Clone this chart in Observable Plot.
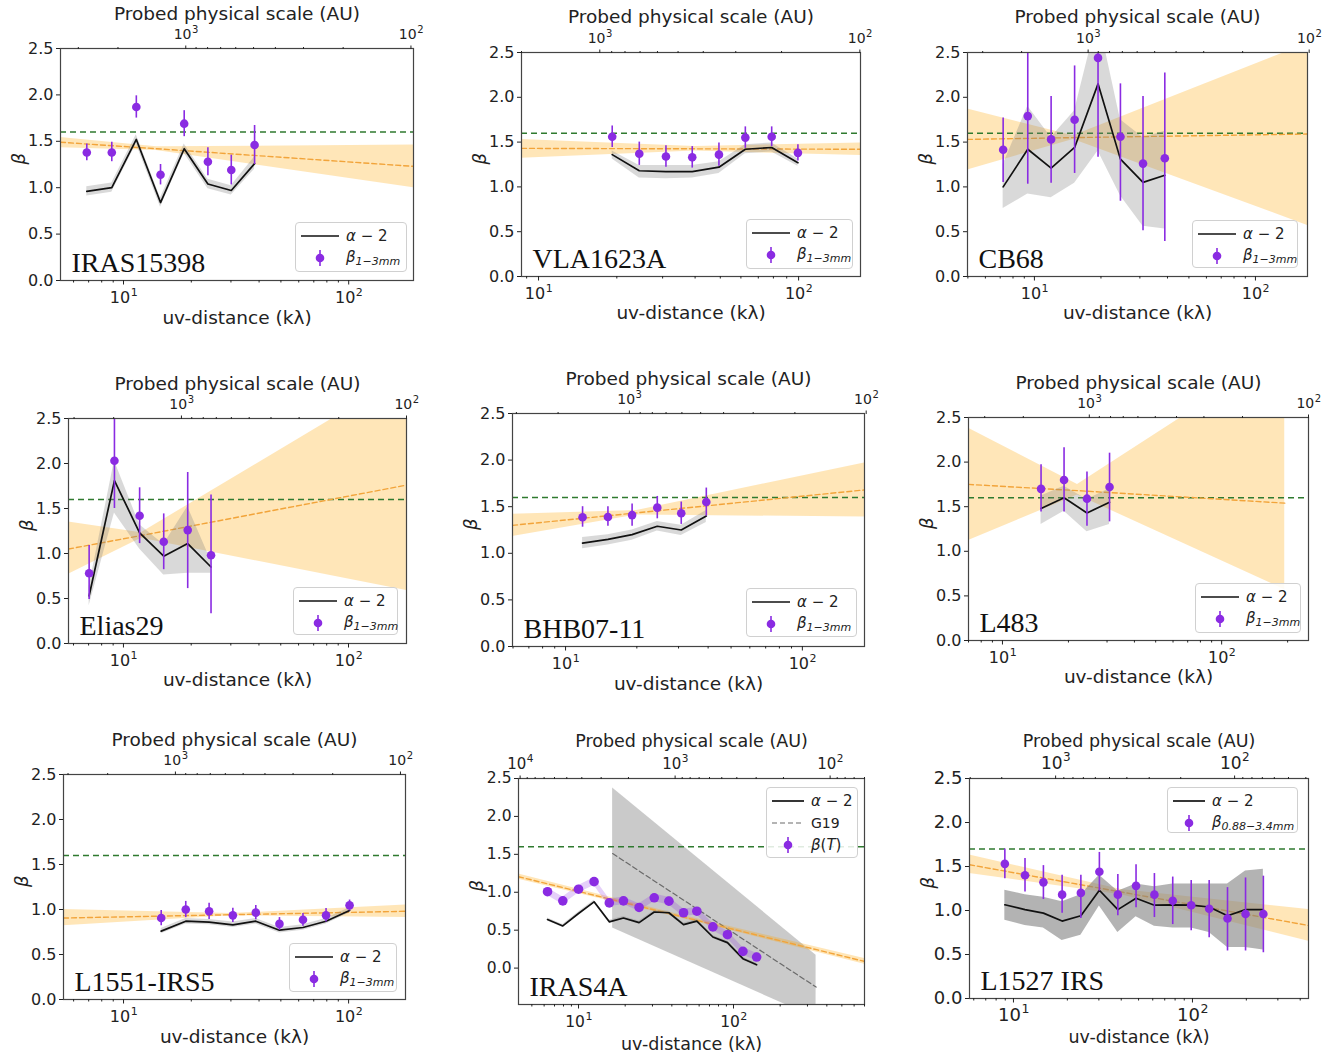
<!DOCTYPE html>
<html>
<head>
<meta charset="utf-8">
<script src="https://cdn.jsdelivr.net/npm/d3@7"></script>
<script src="https://cdn.jsdelivr.net/npm/@observablehq/plot@0.6"></script>
<style>
  html, body { margin: 0; padding: 0; background: #fff; }
  body { width: 1341px; height: 1059px; position: relative; overflow: hidden; font-family: "DejaVu Sans", sans-serif; }
  .panel { position: absolute; }
  .legend { position: absolute; box-sizing: border-box; background: rgba(255,255,255,0.85); border: 1px solid #d0d0d0; border-radius: 4px; color: #222; font-family: "DejaVu Sans", sans-serif; padding: 2px 0; }
  .legend .row { display: flex; align-items: center; height: 22px; }
  .legend svg { flex: none; }
  .legend .lab { font-size: 15px; white-space: nowrap; margin-left: 4px; }
  .legend sub { font-size: 11px; font-style: italic; vertical-align: -3px; }
</style>
</head>
<body>
<script>
// ---------------- DATA ----------------
const yTicks = [0, 0.5, 1.0, 1.5, 2.0, 2.5];
const uvDecadeMults = [1];
const minorMults = [2, 3, 4, 5, 6, 7, 8, 9];

// IRAS15398
const iras15398_uv = [6.87, 8.87, 11.4, 14.6, 18.6, 23.7, 30.1, 38.2];
const iras15398_beta = [1.38, 1.38, 1.87, 1.14, 1.69, 1.28, 1.19, 1.46];
const iras15398_betaLo = [1.29, 1.28, 1.75, 1.03, 1.55, 1.13, 1.03, 1.25];
const iras15398_betaHi = [1.47, 1.49, 1.99, 1.25, 1.83, 1.43, 1.35, 1.67];
const iras15398_alpha = [0.96, 1.00, 1.52, 0.84, 1.42, 1.04, 0.97, 1.26];
const iras15398_alphaLo = [0.91, 0.95, 1.47, 0.79, 1.37, 0.99, 0.92, 1.20];
const iras15398_alphaHi = [1.01, 1.05, 1.57, 0.89, 1.47, 1.09, 1.02, 1.33];
const iras15398_fitUv = [5.25, 14, 194];
const iras15398_fitMid = [1.49, 1.42, 1.23];
const iras15398_fitLo = [1.43, 1.40, 1.00];
const iras15398_fitHi = [1.54, 1.44, 1.46];

// VLA1623A
const vla1623a_uv = [19.2, 24.4, 30.9, 39.0, 49.4, 62.4, 78.8, 99.4];
const vla1623a_beta = [1.56, 1.37, 1.34, 1.33, 1.36, 1.55, 1.56, 1.38];
const vla1623a_betaLo = [1.44, 1.24, 1.22, 1.21, 1.23, 1.43, 1.45, 1.29];
const vla1623a_betaHi = [1.68, 1.50, 1.46, 1.45, 1.49, 1.67, 1.67, 1.47];
const vla1623a_alpha = [1.36, 1.18, 1.17, 1.17, 1.22, 1.42, 1.44, 1.27];
const vla1623a_alphaLo = [1.31, 1.10, 1.09, 1.10, 1.15, 1.37, 1.39, 1.23];
const vla1623a_alphaHi = [1.40, 1.24, 1.24, 1.24, 1.28, 1.47, 1.49, 1.31];
const vla1623a_fitUv = [8.6, 40, 173];
const vla1623a_fitMid = [1.43, 1.425, 1.42];
const vla1623a_fitLo = [1.32, 1.40, 1.35];
const vla1623a_fitHi = [1.53, 1.45, 1.49];

// CB68
const cb68_uv = [7.22, 9.33, 11.9, 15.2, 19.4, 24.5, 31.0, 38.9];
const cb68_beta = [1.415, 1.79, 1.53, 1.75, 2.44, 1.56, 1.26, 1.32];
const cb68_betaLo = [1.05, 1.03, 1.04, 1.15, 1.33, 0.84, 0.51, 0.39];
const cb68_betaHi = [1.77, 2.60, 2.01, 2.35, 3.50, 2.15, 2.01, 2.27];
const cb68_alpha = [1.00, 1.42, 1.21, 1.44, 2.15, 1.31, 1.05, 1.13];
const cb68_alphaLo = [0.76, 0.92, 0.88, 1.04, 1.40, 0.90, 0.56, 0.53];
const cb68_alphaHi = [1.25, 1.90, 1.55, 1.85, 2.90, 1.75, 1.55, 1.62];
const cb68_fitUv = [4.98, 15, 172];
const cb68_fitMid = [1.53, 1.55, 1.59];
const cb68_fitLo = [1.19, 1.53, 0.57];
const cb68_fitHi = [1.87, 1.57, 2.60];

// Elias29
const elias29_uv = [7.04, 9.12, 11.8, 15.1, 19.3, 24.5];
const elias29_beta = [0.78, 2.03, 1.42, 1.13, 1.26, 0.98];
const elias29_betaLo = [0.49, 1.50, 1.11, 0.82, 0.61, 0.33];
const elias29_betaHi = [1.09, 2.60, 1.73, 1.44, 1.90, 1.65];
const elias29_alpha = [0.53, 1.81, 1.23, 0.97, 1.11, 0.85];
const elias29_alphaLo = [0.42, 1.45, 1.05, 0.76, 0.78, 0.78];
const elias29_alphaHi = [0.63, 2.03, 1.32, 1.10, 1.52, 0.92];
const elias29_fitUv = [5.7, 12, 181];
const elias29_fitMid = [1.05, 1.20, 1.76];
const elias29_fitLo = [0.77, 1.17, 0.59];
const elias29_fitHi = [1.35, 1.23, 2.99];

// BHB07-11
const bhb0711_uv = [11.8, 15.1, 19.1, 24.4, 30.8, 39.3];
const bhb0711_beta = [1.386, 1.39, 1.41, 1.49, 1.43, 1.55];
const bhb0711_betaLo = [1.28, 1.29, 1.29, 1.37, 1.31, 1.40];
const bhb0711_betaHi = [1.50, 1.50, 1.53, 1.61, 1.55, 1.70];
const bhb0711_alpha = [1.11, 1.15, 1.20, 1.29, 1.25, 1.40];
const bhb0711_alphaLo = [1.05, 1.09, 1.14, 1.24, 1.19, 1.33];
const bhb0711_alphaHi = [1.17, 1.20, 1.25, 1.34, 1.30, 1.46];
const bhb0711_fitUv = [5.97, 20, 183];
const bhb0711_fitMid = [1.30, 1.434, 1.68];
const bhb0711_fitLo = [1.18, 1.41, 1.39];
const bhb0711_fitHi = [1.42, 1.46, 1.97];

// L483
const l483_uv = [15.0, 19.1, 24.3, 30.8];
const l483_beta = [1.70, 1.80, 1.59, 1.72];
const l483_betaLo = [1.44, 1.44, 1.28, 1.33];
const l483_betaHi = [1.97, 2.16, 1.89, 2.10];
const l483_alpha = [1.48, 1.60, 1.43, 1.55];
const l483_alphaLo = [1.30, 1.45, 1.22, 1.30];
const l483_alphaHi = [1.62, 1.73, 1.58, 1.70];
const l483_fitUv = [7.0, 22, 194];
const l483_fitMid = [1.75, 1.68, 1.54];
const l483_fitLo = [1.12, 1.63, 0.57];
const l483_fitHi = [2.38, 1.75, 3.25];

// L1551-IRS5
const l1551_uv = [14.7, 18.9, 24.0, 30.6, 38.7, 49.3, 62.7, 79.4, 101];
const l1551_beta = [0.905, 1.00, 0.98, 0.935, 0.965, 0.84, 0.886, 0.935, 1.046];
const l1551_betaLo = [0.82, 0.91, 0.89, 0.855, 0.885, 0.77, 0.815, 0.86, 0.985];
const l1551_betaHi = [0.99, 1.09, 1.07, 1.015, 1.045, 0.91, 0.955, 1.01, 1.105];
const l1551_alpha = [0.76, 0.87, 0.86, 0.83, 0.87, 0.77, 0.80, 0.87, 0.99];
const l1551_alphaLo = [0.73, 0.84, 0.83, 0.80, 0.84, 0.74, 0.77, 0.84, 0.96];
const l1551_alphaHi = [0.79, 0.90, 0.89, 0.86, 0.90, 0.80, 0.83, 0.90, 1.02];
const l1551_fitUv = [5.41, 30, 179];
const l1551_fitMid = [0.905, 0.942, 0.98];
const l1551_fitLo = [0.82, 0.93, 0.91];
const l1551_fitHi = [1.00, 0.955, 1.05];

// IRAS4A
const iras4a_uv = [6.31, 7.92, 10.0, 12.6, 15.8, 19.5, 24.6, 30.8, 38.3, 47.6, 58.0, 73.6, 91.4, 115, 141];
const iras4a_beta = [1.007, 0.887, 1.04, 1.14, 0.86, 0.887, 0.80, 0.927, 0.883, 0.73, 0.75, 0.543, 0.44, 0.22, 0.146];
const iras4a_betaLo = [0.957, 0.837, 0.99, 1.09, 0.81, 0.837, 0.75, 0.877, 0.833, 0.68, 0.70, 0.493, 0.39, 0.17, 0.096];
const iras4a_betaHi = [1.057, 0.937, 1.09, 1.19, 0.91, 0.937, 0.85, 0.977, 0.933, 0.78, 0.80, 0.593, 0.49, 0.27, 0.196];
const iras4a_alpha = [0.64, 0.556, 0.72, 0.874, 0.61, 0.66, 0.60, 0.74, 0.73, 0.574, 0.62, 0.41, 0.336, 0.124, 0.044];
const iras4a_alphaLo = [0.62, 0.536, 0.70, 0.854, 0.59, 0.64, 0.58, 0.72, 0.71, 0.554, 0.60, 0.39, 0.316, 0.104, 0.024];
const iras4a_alphaHi = [0.66, 0.576, 0.74, 0.894, 0.63, 0.68, 0.62, 0.76, 0.75, 0.594, 0.64, 0.43, 0.356, 0.144, 0.064];
const iras4a_fitUv = [4.1, 40, 700];
const iras4a_fitMid = [1.205, 0.71, 0.088];
const iras4a_fitLo = [1.17, 0.69, 0.05];
const iras4a_fitHi = [1.24, 0.73, 0.125];
const iras4a_g19Uv = [16.6, 341];
const iras4a_g19Mid = [1.51, -0.25];
const iras4a_g19Lo = [0.53, -0.66];
const iras4a_g19Hi = [2.375, 0.17];

// L1527 IRS
const l1527_uv = [8.95, 11.6, 14.7, 18.7, 23.8, 30.2, 38.3, 48.4, 61.3, 77.6, 98.4, 124, 157, 198, 249];
const l1527_beta = [1.53, 1.40, 1.32, 1.18, 1.20, 1.44, 1.18, 1.28, 1.18, 1.11, 1.06, 1.02, 0.91, 0.96, 0.96];
const l1527_betaLo = [1.36, 1.21, 1.125, 0.97, 0.91, 1.22, 0.94, 1.03, 0.92, 0.84, 0.77, 0.69, 0.54, 0.54, 0.52];
const l1527_betaHi = [1.70, 1.59, 1.51, 1.40, 1.40, 1.66, 1.41, 1.52, 1.42, 1.38, 1.34, 1.34, 1.26, 1.37, 1.39];
const l1527_alpha = [1.065, 1.01, 0.97, 0.88, 0.94, 1.23, 1.01, 1.14, 1.06, 1.065, 1.06, 1.04, 0.94, 1.01, 1.01];
const l1527_alphaLo = [0.89, 0.83, 0.80, 0.66, 0.72, 1.05, 0.75, 0.93, 0.82, 0.80, 0.80, 0.75, 0.58, 0.58, 0.55];
const l1527_alphaHi = [1.23, 1.18, 1.15, 1.10, 1.18, 1.40, 1.22, 1.30, 1.27, 1.30, 1.30, 1.30, 1.30, 1.45, 1.47];
const l1527_fitUv = [5.68, 40, 445];
const l1527_fitMid = [1.52, 1.21, 0.83];
const l1527_fitLo = [1.42, 1.18, 0.65];
const l1527_fitHi = [1.63, 1.24, 1.01];

// names, reference lines, axis ranges and AU conversion constants
const names = ["IRAS15398", "VLA1623A", "CB68", "Elias29", "BHB07-11", "L483", "L1551-IRS5", "IRAS4A", "L1527 IRS"];
const refBeta = [1.6, 1.6, 1.6, 1.6, 1.6, 1.6, 1.6, 1.6, 1.7];
const uvDomains = [[5.25, 194], [8.6, 173], [4.98, 172], [5.7, 181], [5.97, 183], [7.0, 249], [5.41, 179], [4.1, 700], [5.68, 445]];
const yDomains = [[0, 2.5], [0, 2.5], [0, 2.5], [0, 2.5], [0, 2.5], [0, 2.5], [0, 2.5], [-0.48, 2.5], [0, 2.5]];
const auTimesUv = [18900, 17200, 17500, 18100, 18600, 24900, 17000, 42000, 17200];
const betaLabels = ["1−3mm", "1−3mm", "1−3mm", "1−3mm", "1−3mm", "1−3mm", "1−3mm", "(T)", "0.88−3.4mm"];

const series = [
  [iras15398_uv, iras15398_beta, iras15398_betaLo, iras15398_betaHi, iras15398_alpha, iras15398_alphaLo, iras15398_alphaHi, iras15398_fitUv, iras15398_fitMid, iras15398_fitLo, iras15398_fitHi],
  [vla1623a_uv, vla1623a_beta, vla1623a_betaLo, vla1623a_betaHi, vla1623a_alpha, vla1623a_alphaLo, vla1623a_alphaHi, vla1623a_fitUv, vla1623a_fitMid, vla1623a_fitLo, vla1623a_fitHi],
  [cb68_uv, cb68_beta, cb68_betaLo, cb68_betaHi, cb68_alpha, cb68_alphaLo, cb68_alphaHi, cb68_fitUv, cb68_fitMid, cb68_fitLo, cb68_fitHi],
  [elias29_uv, elias29_beta, elias29_betaLo, elias29_betaHi, elias29_alpha, elias29_alphaLo, elias29_alphaHi, elias29_fitUv, elias29_fitMid, elias29_fitLo, elias29_fitHi],
  [bhb0711_uv, bhb0711_beta, bhb0711_betaLo, bhb0711_betaHi, bhb0711_alpha, bhb0711_alphaLo, bhb0711_alphaHi, bhb0711_fitUv, bhb0711_fitMid, bhb0711_fitLo, bhb0711_fitHi],
  [l483_uv, l483_beta, l483_betaLo, l483_betaHi, l483_alpha, l483_alphaLo, l483_alphaHi, l483_fitUv, l483_fitMid, l483_fitLo, l483_fitHi],
  [l1551_uv, l1551_beta, l1551_betaLo, l1551_betaHi, l1551_alpha, l1551_alphaLo, l1551_alphaHi, l1551_fitUv, l1551_fitMid, l1551_fitLo, l1551_fitHi],
  [iras4a_uv, iras4a_beta, iras4a_betaLo, iras4a_betaHi, iras4a_alpha, iras4a_alphaLo, iras4a_alphaHi, iras4a_fitUv, iras4a_fitMid, iras4a_fitLo, iras4a_fitHi],
  [l1527_uv, l1527_beta, l1527_betaLo, l1527_betaHi, l1527_alpha, l1527_alphaLo, l1527_alphaHi, l1527_fitUv, l1527_fitMid, l1527_fitLo, l1527_fitHi]
];

// ---------------- LAYOUT / STYLE ----------------
const frames = [
  {left: 60, top: 48, right: 413, bottom: 280},
  {left: 521, top: 52, right: 860, bottom: 276},
  {left: 967, top: 52, right: 1307, bottom: 276},
  {left: 68, top: 418, right: 406, bottom: 643},
  {left: 512, top: 413, right: 864, bottom: 646},
  {left: 968, top: 417, right: 1308, bottom: 640},
  {left: 63, top: 774, right: 405, bottom: 999},
  {left: 518, top: 778, right: 864, bottom: 1004},
  {left: 969, top: 778, right: 1308, bottom: 998}
];
const legendBoxes = [
  [295, 222, 112, 50], [746, 219, 107, 50], [1192, 220, 106, 48],
  [293, 587, 105, 48], [746, 588, 111, 49], [1195, 583, 106, 50],
  [289, 943, 108, 49], [766, 787, 92, 71], [1167, 787, 131, 46]
];
const legendSwatch = [46, 46, 46, 46, 46, 46, 46, 40, 40];
const styles = [
  {tick: 16, exp: 11, top: 14, topExp: 10, title: 18.5, titleDy: -34, xlabDy: 38},
  {tick: 16, exp: 11, top: 14, topExp: 10, title: 18.5, titleDy: -35, xlabDy: 37},
  {tick: 16, exp: 11, top: 14, topExp: 10, title: 18.5, titleDy: -35, xlabDy: 37},
  {tick: 16, exp: 11, top: 14, topExp: 10, title: 18.5, titleDy: -34, xlabDy: 37},
  {tick: 16, exp: 11, top: 14, topExp: 10, title: 18.5, titleDy: -34, xlabDy: 38},
  {tick: 16, exp: 11, top: 14, topExp: 10, title: 18.5, titleDy: -34, xlabDy: 37},
  {tick: 16, exp: 11, top: 14, topExp: 10, title: 18.5, titleDy: -34, xlabDy: 38},
  {tick: 15.5, exp: 11, top: 15, topExp: 10.5, title: 17.5, titleDy: -37, xlabDy: 40},
  {tick: 18, exp: 12.5, top: 17, topExp: 12, title: 17.5, titleDy: -37, xlabDy: 39}
];
const PURPLE = "#8a2be2";
const ORANGE = "#f2a43a";
const GREEN = "#2f7a2f";

function ticksIn(lo, hi, mults) {
  const out = [];
  for (let k = -2; k <= 6; k++) for (const m of mults) {
    const v = m * Math.pow(10, k);
    if (v >= lo * 0.98 && v <= hi * 1.02) out.push(v);
  }
  return out;
}
const expOf = v => String(Math.round(Math.log10(v)));

// power-of-ten labels drawn as "10" + raised exponent, positioned by the x scale
function powLabels(ticks, valueOf, anchor, fs, es, base) {
  const w10 = 2 * 0.636 * fs, we = 0.636 * es;
  const shift = (w10 - we) / 2;
  const baseDy = anchor === "bottom" ? base : -base;
  return [
    Plot.text(ticks, {x: d => d, text: () => "10", frameAnchor: anchor, dx: shift, dy: baseDy, textAnchor: "end", lineAnchor: "bottom", fontSize: fs, fill: "#222"}),
    Plot.text(ticks, {x: d => d, text: d => expOf(valueOf(d)), frameAnchor: anchor, dx: shift + 0.5, dy: baseDy - fs * 0.42, textAnchor: "start", lineAnchor: "bottom", fontSize: es, fill: "#222"})
  ];
}

const mL = 60, mR = 26, mT = 46, mB = 54;

function makePanel(i) {
  const f = frames[i], st = styles[i];
  const [uv, beta, bLo, bHi, alpha, aLo, aHi, fUv, fMid, fLo, fHi] = series[i];
  const pts = uv.map((x, j) => ({x, beta: beta[j], lo: bLo[j], hi: bHi[j], a: alpha[j], alo: aLo[j], ahi: aHi[j]}));
  const fit = fUv.map((x, j) => ({x, m: fMid[j], lo: fLo[j], hi: fHi[j]}));
  const [x0, x1] = uvDomains[i];
  const C = auTimesUv[i];
  const bottomMajor = ticksIn(x0, x1, uvDecadeMults);
  const bottomMinor = ticksIn(x0, x1, minorMults);
  const topMajor = ticksIn(C / x1, C / x0, uvDecadeMults).map(a => C / a);
  const topMinor = ticksIn(C / x1, C / x0, minorMults).map(a => C / a);
  const fw = f.right - f.left, fh = f.bottom - f.top;
  const W = fw + mL + mR, H = fh + mT + mB;
  const isG19 = i === 7;
  const greyOpacity = i === 8 ? 0.6 : 0.3;

  const marks = [];
  if (isG19) {
    const g = iras4a_g19Uv.map((x, j) => ({x, m: iras4a_g19Mid[j], lo: iras4a_g19Lo[j], hi: iras4a_g19Hi[j]}));
    marks.push(Plot.areaY(g, {x: "x", y1: "lo", y2: "hi", fill: "gray", fillOpacity: 0.42, clip: true}));
    marks.push(Plot.lineY(g, {x: "x", y: "m", stroke: "#6a6a6a", strokeWidth: 1.2, strokeDasharray: "5,3", clip: true}));
  }
  marks.push(
    Plot.areaY(fit, {x: "x", y1: "lo", y2: "hi", fill: "orange", fillOpacity: 0.28, clip: true}),
    Plot.ruleY([refBeta[i]], {stroke: GREEN, strokeWidth: 1.5, strokeDasharray: "6,4"}),
    Plot.lineY(fit, {x: "x", y: "m", stroke: ORANGE, strokeWidth: 1.4, strokeDasharray: "5,3", clip: true}),
    Plot.areaY(pts, {x: "x", y1: "alo", y2: "ahi", fill: "gray", fillOpacity: greyOpacity, clip: true}),
    Plot.lineY(pts, {x: "x", y: "a", stroke: "#111", strokeWidth: 1.7, clip: true})
  );
  if (isG19) {
    marks.push(Plot.areaY(pts, {x: "x", y1: "lo", y2: "hi", fill: PURPLE, fillOpacity: 0.22, clip: true}));
  }
  marks.push(
    Plot.ruleX(pts, {x: "x", y1: "lo", y2: "hi", stroke: PURPLE, strokeWidth: 1.6, clip: true}),
    Plot.dot(pts, {x: "x", y: "beta", r: isG19 ? 4.8 : 4.3, fill: PURPLE, clip: true}),
    Plot.frame({stroke: "#444", strokeWidth: 1.2}),
    Plot.axisY({ticks: yTicks, tickFormat: d => d.toFixed(1), tickSize: 4, tickPadding: 3, fontSize: st.tick, label: null}),
    Plot.axisX({anchor: "bottom", ticks: bottomMajor, tickFormat: () => "", tickSize: 4.5, label: null}),
    Plot.axisX({anchor: "bottom", ticks: bottomMinor, tickFormat: () => "", tickSize: 2.5, label: null}),
    Plot.axisX({anchor: "top", ticks: topMajor, tickFormat: () => "", tickSize: 3.5, label: null}),
    Plot.axisX({anchor: "top", ticks: topMinor, tickFormat: () => "", tickSize: 2, label: null}),
    ...powLabels(bottomMajor, d => d, "bottom", st.tick, st.exp, 22),
    ...powLabels(topMajor, d => C / d, "top", st.top, st.topExp, 10),
    Plot.text(["Probed physical scale (AU)"], {text: d => d, frameAnchor: "top", dy: st.titleDy, lineAnchor: "middle", fontSize: st.title, fill: "#222"}),
    Plot.text(["uv-distance (kλ)"], {text: d => d, frameAnchor: "bottom", dy: st.xlabDy, lineAnchor: "middle", fontSize: st.title, fill: "#222"}),
    Plot.text(["β"], {text: d => d, frameAnchor: "left", dx: -41, rotate: -90, lineAnchor: "middle", fontSize: 18, fontStyle: "italic", fill: "#222"}),
    Plot.text([names[i]], {text: d => d, frameAnchor: "bottom-left", dx: 11, dy: -9, textAnchor: "start", lineAnchor: "bottom", fontFamily: "'Liberation Serif', 'DejaVu Serif', serif", fontSize: 28, fill: "#111"})
  );

  const chart = Plot.plot({
    width: W, height: H,
    marginLeft: mL, marginRight: mR, marginTop: mT, marginBottom: mB,
    x: {type: "log", domain: uvDomains[i]},
    y: {domain: yDomains[i]},
    style: {fontFamily: "'DejaVu Sans', sans-serif", fontSize: "15px", color: "#222", background: "transparent", overflow: "visible"},
    marks
  });
  const div = document.createElement("div");
  div.className = "panel";
  div.style.left = (f.left - mL) + "px";
  div.style.top = (f.top - mT) + "px";
  div.style.width = W + "px";
  div.style.height = H + "px";
  div.appendChild(chart);
  document.body.appendChild(div);

  // legend
  const [lx, ly, lw, lh] = legendBoxes[i];
  const sw = legendSwatch[i];
  const lg = document.createElement("div");
  lg.className = "legend";
  lg.style.left = lx + "px"; lg.style.top = ly + "px"; lg.style.width = lw + "px"; lg.style.height = lh + "px";
  const lineSw = `<svg width="${sw}" height="20"><line x1="5" x2="${sw - 3}" y1="10" y2="10" stroke="#111" stroke-width="1.7"/></svg>`;
  const dashSw = `<svg width="${sw}" height="20"><line x1="5" x2="${sw - 3}" y1="10" y2="10" stroke="#6a6a6a" stroke-width="1.2" stroke-dasharray="5,3"/></svg>`;
  const cx = (5 + sw - 3) / 2;
  const dotSw = `<svg width="${sw}" height="20"><line x1="${cx}" x2="${cx}" y1="2" y2="18" stroke="${PURPLE}" stroke-width="1.6"/><circle cx="${cx}" cy="10" r="4.3" fill="${PURPLE}"/></svg>`;
  let html = `<div class="row">${lineSw}<span class="lab"><i>α</i> − 2</span></div>`;
  if (isG19) html += `<div class="row">${dashSw}<span class="lab" style="font-size:14px">G19</span></div>`;
  const bl = betaLabels[i];
  const betaText = bl === "(T)" ? `<i>β</i>(<i>T</i>)` : `<i>β</i><sub>${bl}</sub>`;
  html += `<div class="row">${dotSw}<span class="lab">${betaText}</span></div>`;
  lg.innerHTML = html;
  document.body.appendChild(lg);
}

for (let i = 0; i < 9; i++) makePanel(i);
</script>
</body>
</html>
